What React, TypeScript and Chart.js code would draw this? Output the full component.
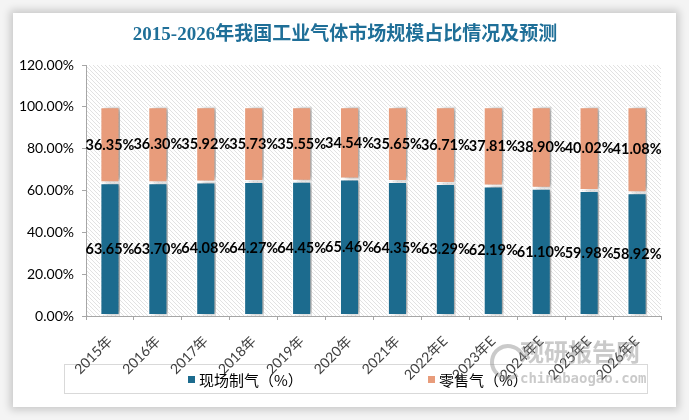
import React, { useEffect, useRef } from "react";
import { Chart, registerables } from "chart.js";

Chart.register(...registerables);

const categories = ["2015年", "2016年", "2017年", "2018年", "2019年", "2020年", "2021年", "2022年E", "2023年E", "2024年E", "2025年E", "2026年E"];
const onsite = [63.65, 63.7, 64.08, 64.27, 64.45, 65.46, 64.35, 63.29, 62.19, 61.1, 59.98, 58.92];
const retail = [36.35, 36.3, 35.92, 35.73, 35.55, 34.54, 35.65, 36.71, 37.81, 38.9, 40.02, 41.08];
const seriesNames = ["现场制气（%）", "零售气（%）"];
const yTicks = [0, 20, 40, 60, 80, 100, 120];
const title = "2015-2026年我国工业气体市场规模占比情况及预测";

const BLUE = "#1c6b8e";
const ORANGE = "#e89c7b";
const FONT = "Lato, 'Noto Sans CJK SC', sans-serif";

export default function App() {
  const ref = useRef<HTMLCanvasElement | null>(null);

  useEffect(() => {
    document.body.style.margin = "0";
    const canvas = ref.current!;
    // hatch pattern
    const pc = document.createElement("canvas");
    pc.width = 4;
    pc.height = 4;
    const p = pc.getContext("2d")!;
    p.fillStyle = "#ffffff";
    p.fillRect(0, 0, 4, 4);
    p.strokeStyle = "#dadada";
    p.lineWidth = 0.8;
    p.beginPath();
    p.moveTo(-1, -1);
    p.lineTo(5, 5);
    p.moveTo(-1, 3);
    p.lineTo(1, 5);
    p.moveTo(3, -1);
    p.lineTo(5, 1);
    p.stroke();

    const bgPlugin = {
      id: "bg",
      beforeDraw(chart: any) {
        const { ctx, chartArea } = chart;
        ctx.save();
        const pat = ctx.createPattern(pc, "repeat");
        ctx.fillStyle = pat;
        ctx.fillRect(chartArea.left, chartArea.top, chartArea.right - chartArea.left, chartArea.bottom - chartArea.top);
        // title
        ctx.fillStyle = "#1f6f98";
        ctx.font = "bold 19px 'Liberation Serif', 'Noto Sans CJK SC', serif";
        ctx.textAlign = "center";
        ctx.textBaseline = "middle";
        ctx.fillText(title, 345, 35);
        // legend box
        ctx.strokeStyle = "#d9d9d9";
        ctx.lineWidth = 1;
        ctx.strokeRect(64.5, 364.5, 583, 29);
        ctx.font = "15px 'Noto Sans CJK SC', sans-serif";
        ctx.textAlign = "left";
        const items = [
          { x: 188, c: BLUE, t: seriesNames[0] },
          { x: 428, c: ORANGE, t: seriesNames[1] },
        ];
        items.forEach((it) => {
          ctx.fillStyle = it.c;
          ctx.fillRect(it.x, 376, 7, 7);
          ctx.fillStyle = "#000";
          ctx.fillText(it.t, it.x + 11, 380);
        });
        ctx.restore();
      },
      beforeDatasetsDraw(chart: any) {
        const ctx = chart.ctx;
        ctx.save();
        ctx.shadowColor = "rgba(0,0,0,0.35)";
        ctx.shadowBlur = 5;
        ctx.shadowOffsetX = 5;
        ctx.shadowOffsetY = 0;
      },
      afterDatasetsDraw(chart: any) {
        const ctx = chart.ctx;
        ctx.restore();
        ctx.save();
        ctx.font = "bold 14.5px " + FONT;
        ctx.fillStyle = "#000";
        ctx.textAlign = "center";
        ctx.textBaseline = "middle";
        chart.data.datasets.forEach((ds: any, di: number) => {
          const meta = chart.getDatasetMeta(di);
          meta.data.forEach((el: any, i: number) => {
            const yc = (el.y + el.base) / 2;
            ctx.fillText(ds.data[i].toFixed(2) + "%", el.x, yc);
          });
        });
        ctx.restore();
      },
      afterDraw(chart: any) {
        const ctx = chart.ctx;
        ctx.save();
        ctx.globalAlpha = 0.45;
        ctx.fillStyle = "#8a8a8a";
        ctx.strokeStyle = "#8a8a8a";
        ctx.lineWidth = 4;
        ctx.beginPath();
        ctx.arc(508, 362, 16, Math.PI * 0.3, Math.PI * 1.9);
        ctx.stroke();
        ctx.font = "bold 24px 'Noto Sans CJK SC', sans-serif";
        ctx.textAlign = "left";
        ctx.textBaseline = "middle";
        ctx.fillText("观研报告网", 520, 352);
        ctx.font = "bold 14px 'DejaVu Sans Mono', monospace";
        ctx.fillText("chinabaogao.com", 520, 379);
        ctx.restore();
      },
    };

    const chart = new Chart(canvas, {
      type: "bar",
      data: {
        labels: categories,
        datasets: [
          {
            label: seriesNames[0],
            data: onsite,
            backgroundColor: BLUE,
            borderColor: "#ffffff",
            borderWidth: 1.5,
            borderSkipped: false,
            barPercentage: 0.42,
            categoryPercentage: 1,
          },
          {
            label: seriesNames[1],
            data: retail,
            backgroundColor: ORANGE,
            borderColor: "#ffffff",
            borderWidth: 1.5,
            borderSkipped: false,
            barPercentage: 0.42,
            categoryPercentage: 1,
          },
        ],
      },
      options: {
        responsive: false,
        animation: false,
        layout: { padding: { left: 13, right: 28, top: 65, bottom: 0 } },
        plugins: {
          legend: { display: false },
          title: { display: false },
          tooltip: { enabled: false },
        },
        scales: {
          x: {
            stacked: true,
            grid: { display: true, drawOnChartArea: false, tickLength: 4, color: "#a6a6a6", offset: true },
            border: { color: "#a6a6a6" },
            ticks: {
              maxRotation: 45,
              minRotation: 45,
              autoSkip: false,
              color: "#404040",
              font: { size: 14, family: FONT },
              padding: 13,
            },
            afterFit(scale: any) {
              scale.height = 104;
            },
          },
          y: {
            stacked: true,
            min: 0,
            max: 120,
            afterBuildTicks(scale: any) {
              scale.ticks = yTicks.map((v) => ({ value: v }));
            },
            grid: { display: true, drawOnChartArea: false, tickLength: 4, color: "#a6a6a6" },
            border: { color: "#a6a6a6" },
            ticks: {
              color: "#000",
              font: { size: 14, family: FONT },
              padding: 8,
              callback: (v: any) => Number(v).toFixed(2) + "%",
            },
            afterFit(scale: any) {
              scale.width = 73;
            },
          },
        },
      },
      plugins: [bgPlugin],
    });
    return () => chart.destroy();
  }, []);

  return (
    <div style={{ position: "fixed", left: 0, top: 0, width: 689, height: 420, background: "#f4f4f4" }}>
      <div
        style={{
          position: "absolute",
          left: 13,
          top: 13,
          width: 663,
          height: 394,
          background: "#fff",
          boxShadow: "0 0 8px 3px rgba(0,0,0,0.18)",
        }}
      />
      <canvas ref={ref} width={689} height={420} style={{ position: "absolute", left: 0, top: 0 }} />
    </div>
  );
}
